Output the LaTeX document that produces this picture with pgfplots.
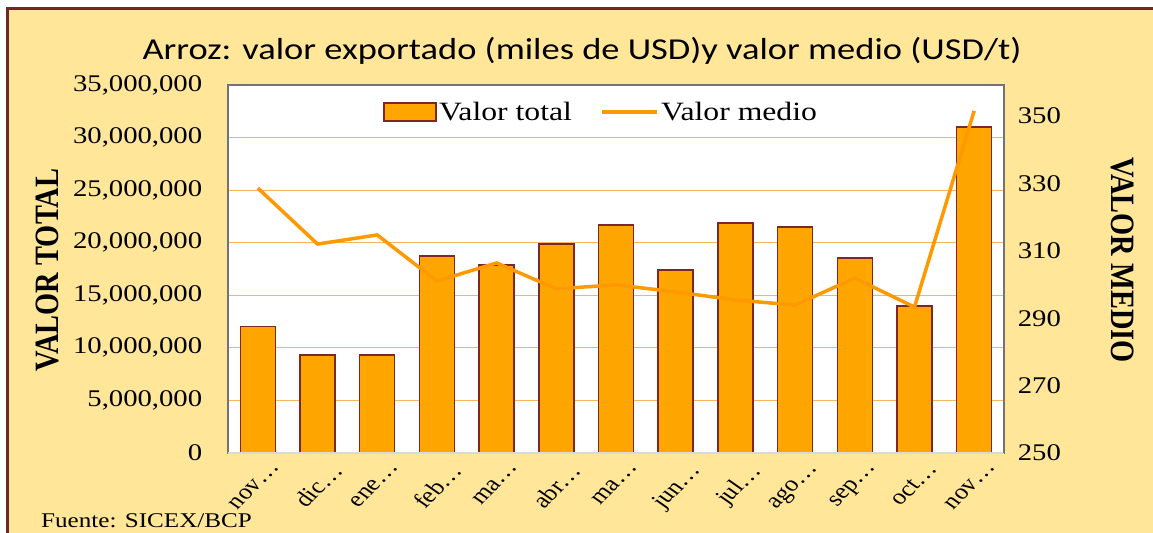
\documentclass[border=0pt]{standalone}
\usepackage{fontspec}
\setmainfont{Liberation Serif}
\newfontfamily\calibri{Carlito}
\usepackage{pgfplots}
\pgfplotsset{compat=1.18}
\definecolor{bg}{RGB}{255,230,153}
\definecolor{framec}{RGB}{112,38,38}
\definecolor{barfill}{RGB}{255,165,0}
\definecolor{baredge}{RGB}{122,40,40}
\definecolor{linec}{RGB}{255,153,0}
\definecolor{gridc}{RGB}{250,180,90}
\begin{document}
\begin{tikzpicture}[x=1bp,y=1bp, every node/.append style={xscale=1.2}]
\useasboundingbox (0,0) rectangle (1153,533);
\fill[white] (0,0) rectangle (1153,533);
\filldraw[fill=bg, draw=framec, line width=3bp] (7,-20) rectangle (1180,524);
\node[font=\calibri\fontsize{30.5}{34}\selectfont] at (582,482) {Arroz: valor exportado (miles de USD)y valor medio (USD/t)};
\node[font=\fontsize{21}{24}\selectfont, anchor=west] at (37,12) {Fuente: SICEX/BCP};
\begin{axis}[
  at={(228bp,80bp)}, anchor=south west, scale only axis,
  width=776bp, height=368bp,
  xmin=-0.5, xmax=12.5, ymin=0, ymax=35000000,
  axis background/.style={fill=white},
  axis line style={draw=black!55, line width=1.2bp},
  ybar, bar width=35bp,
  xtick={0,...,12},
  xticklabels={nov…,dic…,ene…,feb…,ma…,abr…,ma…,jun…,jul…,ago…,sep…,oct…,nov…},
  xticklabel style={rotate=50, anchor=north east, font=\fontsize{22}{24}\selectfont, inner sep=2bp, xshift=2.4bp, yshift=-11.3bp},
  ytick={0,5000000,...,35000000},
  scaled y ticks=false,
  /pgf/number format/fixed, /pgf/number format/1000 sep={,}, /pgf/number format/precision=0,
  /pgf/number format/assume math mode=true,
  yticklabel style={font=\fontsize{24}{26}\selectfont, xshift=-18bp},
  major tick length=0pt,
  ymajorgrids, grid style={draw=gridc, line width=1.2bp},
  ylabel={\textbf{VALOR TOTAL}},
  ylabel style={font=\fontsize{28.5}{30}\selectfont, at={(axis description cs:-0.232,0.497)}, anchor=center},
  clip=false,
]
\addplot[fill=barfill, draw=baredge, line width=1.5bp] coordinates {
 (0,12050000) (1,9320000) (2,9320000) (3,18740000) (4,17880000) (5,19880000)
 (6,21690000) (7,17400000) (8,21880000) (9,21500000) (10,18550000) (11,13980000) (12,31000000)};
\end{axis}
\begin{axis}[
  at={(228bp,80bp)}, anchor=south west, scale only axis,
  width=776bp, height=368bp,
  xmin=-0.5, xmax=12.5, ymin=250, ymax=359.2,
  axis x line*=bottom, axis y line*=right,
  x axis line style={draw=black!15, line width=2bp},
  y axis line style={draw=black!55, line width=1.2bp},
  xtick=\empty,
  ytick={250,270,...,350},
  /pgf/number format/assume math mode=true,
  yticklabel style={font=\fontsize{24}{26}\selectfont, xshift=8bp},
  major tick length=0pt,
  ylabel={\textbf{VALOR MEDIO}},
  ylabel style={font=\fontsize{28.5}{30}\selectfont, at={(axis description cs:1.153,0.524)}, anchor=center, rotate=180},
  legend style={draw=none, fill=none, xscale=0.8333, at={(0.481,0.927)}, anchor=center, legend columns=2,
    font=\fontsize{26.5}{28}\selectfont, /tikz/every even column/.append style={column sep=26bp}},
  legend cell align=left,
]
\addlegendimage{legend image code/.code={\draw[fill=barfill, draw=baredge, line width=1.5bp] (0bp,-9bp) rectangle (52bp,9bp);}}
\addlegendentry{Valor total}
\addplot[linec, line width=3.5bp, legend image code/.code={\draw[linec, line width=3.5bp] (0bp,0bp) -- (55bp,0bp);}] coordinates {
 (0,328.6) (1,312) (2,314.7) (3,301) (4,306.4) (5,298.7) (6,299.9)
 (7,297.8) (8,295.4) (9,293.9) (10,301.9) (11,293.3) (12,351.5)};
\addlegendentry{Valor medio}
\end{axis}
\end{tikzpicture}
\end{document}
